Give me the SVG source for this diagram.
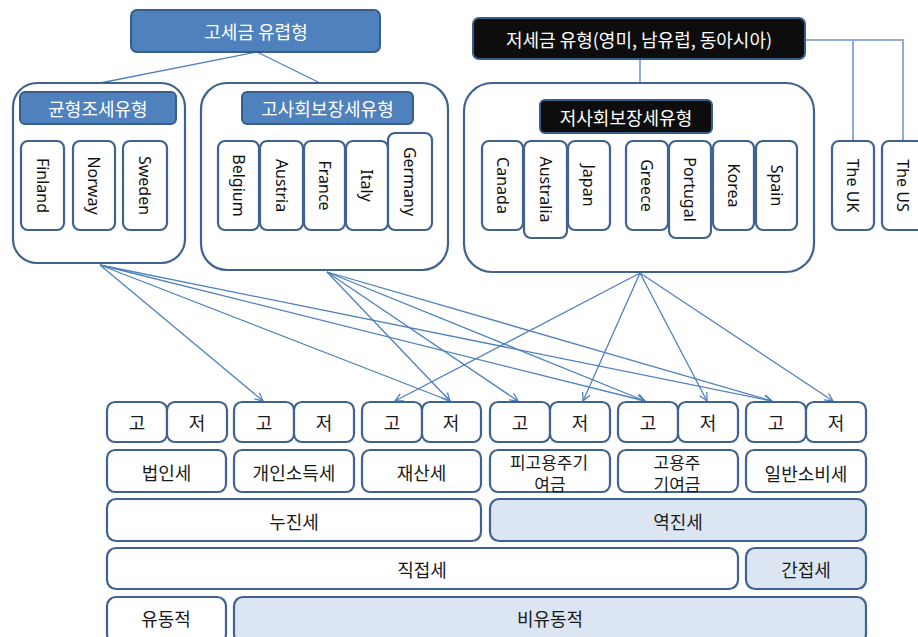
<svg xmlns="http://www.w3.org/2000/svg" width="918" height="637" viewBox="0 0 918 637">
<defs>
<style>
.kr{font-family:"Noto Sans CJK KR","Noto Sans",sans-serif;font-size:18px;text-anchor:middle;dominant-baseline:central;fill:#1a1a1a}
.sm{font-size:17px}
.wt{fill:#ffffff}
.lat{font-family:"Noto Sans","Liberation Sans",sans-serif;font-size:16px;text-anchor:middle;dominant-baseline:central;fill:#111}
.box{fill:#ffffff;stroke:#3F6290;stroke-width:2.2}
.lb{fill:#DCE6F2;stroke:#3F6290;stroke-width:2.2}
.cont{fill:#ffffff;stroke:#3F6290;stroke-width:2.2}
.hb{fill:#4F81BD;stroke:#385D8A;stroke-width:2}
.hk{fill:#0D0D0D;stroke:#385D8A;stroke-width:2}
.ln{fill:none;stroke:#4F81BD;stroke-width:1.3}
.ln2{fill:none;stroke:#8EAADB;stroke-width:2}
.ar{fill:none;stroke:#4F81BD;stroke-width:1.3;marker-end:url(#arr)}
</style>
<marker id="arr" viewBox="0 0 10 10" refX="9" refY="5" markerWidth="10" markerHeight="10" markerUnits="userSpaceOnUse" orient="auto">
<path d="M1,1 L9,5 L1,9" fill="none" stroke="#4F81BD" stroke-width="1.3"/>
</marker>
</defs>

<g id="connectors">
<line class="ln" x1="257" y1="52" x2="100" y2="83"/>
<line class="ln" x1="257" y1="52" x2="320" y2="83"/>
<line class="ln2" x1="640" y1="59" x2="640" y2="83"/>
<polyline class="ln2" points="805,40 903,40 903,141"/>
<line class="ln2" x1="853" y1="40" x2="853" y2="141"/>
<line class="ar" x1="100" y1="265" x2="263" y2="401"/>
<line class="ar" x1="100" y1="265" x2="450" y2="401"/>
<line class="ar" x1="100" y1="265" x2="645" y2="401"/>
<line class="ar" x1="100" y1="265" x2="772" y2="401"/>
<line class="ar" x1="327" y1="272" x2="450" y2="401"/>
<line class="ar" x1="327" y1="272" x2="518" y2="401"/>
<line class="ar" x1="327" y1="272" x2="645" y2="401"/>
<line class="ar" x1="327" y1="272" x2="772" y2="401"/>
<line class="ar" x1="640" y1="273" x2="395" y2="401"/>
<line class="ar" x1="640" y1="273" x2="583" y2="401"/>
<line class="ar" x1="640" y1="273" x2="707" y2="401"/>
<line class="ar" x1="640" y1="273" x2="833" y2="401"/>
</g>

<g id="high-tax">
<rect class="hb" x="131" y="10" width="249" height="42" rx="6"/>
<text class="kr wt" x="256" y="31">고세금 유렵형</text>
</g>

<g id="low-tax">
<rect class="hk" x="473" y="18" width="332" height="41" rx="6"/>
<text class="kr wt" x="639" y="39">저세금 유형(영미, 남유럽, 동아시아)</text>
</g>

<g id="balanced">
<rect class="cont" x="13" y="83" width="172" height="180" rx="24"/>
<rect class="hb" x="20" y="92" width="156" height="32" rx="5"/>
<text class="kr wt" x="98" y="108">균형조세유형</text>
</g>
<g id="finland"><rect class="box" x="21" y="141" width="43" height="89" rx="7"/><text class="lat" transform="translate(42.5,185.5) rotate(90)">Finland</text></g>
<g id="norway"><rect class="box" x="73" y="141" width="42" height="89" rx="7"/><text class="lat" transform="translate(94,185.5) rotate(90)">Norway</text></g>
<g id="sweden"><rect class="box" x="123" y="141" width="44" height="89" rx="7"/><text class="lat" transform="translate(145,185.5) rotate(90)">Sweden</text></g>

<g id="high-social">
<rect class="cont" x="201" y="83" width="247" height="187" rx="26"/>
<rect class="hb" x="242" y="92" width="171" height="32" rx="5"/>
<text class="kr wt" x="327.5" y="108">고사회보장세유형</text>
</g>
<g id="belgium"><rect class="box" x="218" y="141" width="41" height="89" rx="7"/><text class="lat" transform="translate(238.5,185.5) rotate(90)">Belgium</text></g>
<g id="austria"><rect class="box" x="260" y="141" width="43" height="89" rx="7"/><text class="lat" transform="translate(281.5,185.5) rotate(90)">Austria</text></g>
<g id="france"><rect class="box" x="304" y="141" width="41" height="89" rx="7"/><text class="lat" transform="translate(324.5,185.5) rotate(90)">France</text></g>
<g id="italy"><rect class="box" x="346" y="141" width="42" height="89" rx="7"/><text class="lat" transform="translate(367,185.5) rotate(90)">Italy</text></g>
<g id="germany"><rect class="box" x="388" y="133" width="44" height="97" rx="7"/><text class="lat" transform="translate(410,181.5) rotate(90)">Germany</text></g>

<g id="low-social">
<rect class="cont" x="464" y="83" width="350" height="189" rx="28"/>
<rect class="hk" x="540" y="100" width="172" height="33" rx="5"/>
<text class="kr wt" x="626" y="117">저사회보장세유형</text>
</g>
<g id="canada"><rect class="box" x="482" y="141" width="41" height="89" rx="7"/><text class="lat" transform="translate(502.5,185.5) rotate(90)">Canada</text></g>
<g id="australia"><rect class="box" x="524" y="141" width="43" height="97" rx="7"/><text class="lat" transform="translate(545.5,189.5) rotate(90)">Australia</text></g>
<g id="japan"><rect class="box" x="568" y="141" width="42" height="89" rx="7"/><text class="lat" transform="translate(589,185.5) rotate(90)">Japan</text></g>
<g id="greece"><rect class="box" x="626" y="141" width="42" height="89" rx="7"/><text class="lat" transform="translate(647,185.5) rotate(90)">Greece</text></g>
<g id="portugal"><rect class="box" x="669" y="141" width="42" height="97" rx="7"/><text class="lat" transform="translate(690,189.5) rotate(90)">Portugal</text></g>
<g id="korea"><rect class="box" x="713" y="141" width="41" height="89" rx="7"/><text class="lat" transform="translate(733.5,185.5) rotate(90)">Korea</text></g>
<g id="spain"><rect class="box" x="756" y="141" width="41" height="89" rx="7"/><text class="lat" transform="translate(776.5,185.5) rotate(90)">Spain</text></g>
<g id="uk"><rect class="box" x="832" y="141" width="42" height="89" rx="7"/><text class="lat" transform="translate(853,185.5) rotate(90)">The UK</text></g>
<g id="us"><rect class="box" x="882" y="141" width="42" height="89" rx="7"/><text class="lat" transform="translate(903,185.5) rotate(90)">The US</text></g>

<g id="hl-1"><rect class="box" x="107" y="402" width="60" height="40" rx="8"/><text class="kr" x="137" y="422">고</text></g>
<g id="hl-2"><rect class="box" x="167" y="402" width="60" height="40" rx="8"/><text class="kr" x="197" y="422">저</text></g>
<g id="hl-3"><rect class="box" x="234" y="402" width="60" height="40" rx="8"/><text class="kr" x="264" y="422">고</text></g>
<g id="hl-4"><rect class="box" x="294" y="402" width="60" height="40" rx="8"/><text class="kr" x="324" y="422">저</text></g>
<g id="hl-5"><rect class="box" x="362" y="402" width="60" height="40" rx="8"/><text class="kr" x="392" y="422">고</text></g>
<g id="hl-6"><rect class="box" x="422" y="402" width="59" height="40" rx="8"/><text class="kr" x="451" y="422">저</text></g>
<g id="hl-7"><rect class="box" x="490" y="402" width="60" height="40" rx="8"/><text class="kr" x="520" y="422">고</text></g>
<g id="hl-8"><rect class="box" x="550" y="402" width="60" height="40" rx="8"/><text class="kr" x="580" y="422">저</text></g>
<g id="hl-9"><rect class="box" x="618" y="402" width="60" height="40" rx="8"/><text class="kr" x="648" y="422">고</text></g>
<g id="hl-10"><rect class="box" x="678" y="402" width="60" height="40" rx="8"/><text class="kr" x="708" y="422">저</text></g>
<g id="hl-11"><rect class="box" x="746" y="402" width="60" height="40" rx="8"/><text class="kr" x="776" y="422">고</text></g>
<g id="hl-12"><rect class="box" x="806" y="402" width="60" height="40" rx="8"/><text class="kr" x="836" y="422">저</text></g>

<g id="corp"><rect class="box" x="107" y="450" width="119" height="42" rx="8"/><text class="kr" x="166.5" y="472">법인세</text></g>
<g id="income"><rect class="box" x="234" y="450" width="120" height="42" rx="8"/><text class="kr" x="294" y="472">개인소득세</text></g>
<g id="property"><rect class="box" x="362" y="450" width="119" height="42" rx="8"/><text class="kr" x="421.5" y="472">재산세</text></g>
<g id="employee"><rect class="box" x="490" y="450" width="120" height="42" rx="8"/><text class="kr sm" x="549" y="461">피고용주기</text><text class="kr sm" x="550" y="483">여금</text></g>
<g id="employer"><rect class="box" x="618" y="450" width="120" height="42" rx="8"/><text class="kr sm" x="677" y="461">고용주</text><text class="kr sm" x="677" y="483">기여금</text></g>
<g id="consumption"><rect class="box" x="746" y="450" width="120" height="42" rx="8"/><text class="kr" x="806" y="473">일반소비세</text></g>

<g id="progressive"><rect class="box" x="107" y="499" width="374" height="42" rx="9"/><text class="kr" x="294" y="521">누진세</text></g>
<g id="regressive"><rect class="lb" x="490" y="499" width="376" height="42" rx="9"/><text class="kr" x="678" y="521">역진세</text></g>
<g id="direct"><rect class="box" x="107" y="548" width="631" height="41" rx="9"/><text class="kr" x="422" y="569">직접세</text></g>
<g id="indirect"><rect class="lb" x="746" y="548" width="120" height="41" rx="9"/><text class="kr" x="806" y="569">간접세</text></g>
<g id="mobile"><rect class="box" x="107" y="597" width="119" height="46" rx="9"/><text class="kr" x="166" y="618">유동적</text></g>
<g id="immobile"><rect class="lb" x="234" y="597" width="632" height="46" rx="9"/><text class="kr" x="550" y="618">비유동적</text></g>
</svg>
